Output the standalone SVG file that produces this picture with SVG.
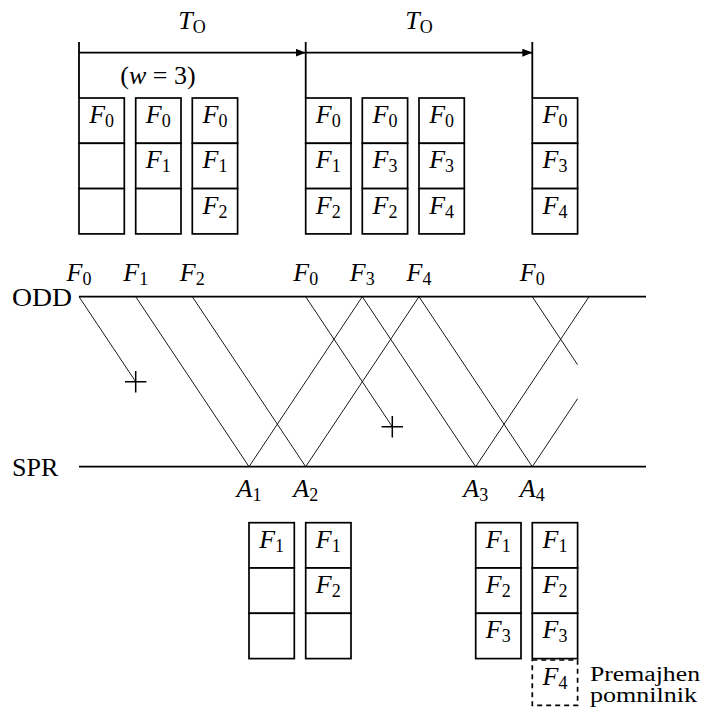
<svg xmlns="http://www.w3.org/2000/svg" width="719" height="710" viewBox="0 0 719 710" font-family="'Liberation Serif', 'DejaVu Serif', serif">
<style>
text{font-family:"Liberation Serif","DejaVu Serif",serif;font-size:26px;fill:#000}
.m{text-anchor:middle}
.i{font-style:italic}
.s{font-size:18px;font-style:normal}
.cell{fill:#fff;stroke:#000;stroke-width:1.7}
.dash{fill:#fff;stroke:#000;stroke-width:1.7;stroke-dasharray:5,4}
.thin{stroke:#000;stroke-width:0.9;fill:none}
.thick{stroke:#000;stroke-width:1.8;fill:none}
.note{font-size:20px}
</style>
<defs>
<marker id="ah" viewBox="0 0 10 8" refX="10" refY="4" markerWidth="10" markerHeight="8" markerUnits="userSpaceOnUse" orient="auto">
<path d="M0,0 L10,4 L0,8 z" fill="#000"/>
</marker>
</defs>

<g id="timing">
<line class="thick" x1="79" y1="42" x2="79" y2="98"/>
<line class="thick" x1="305.7" y1="42" x2="305.7" y2="98"/>
<line class="thick" x1="532.3" y1="42" x2="532.3" y2="98"/>
<line class="thick" x1="79" y1="52.7" x2="305.7" y2="52.7" marker-end="url(#ah)"/>
<line class="thick" x1="305.7" y1="52.7" x2="532.3" y2="52.7" marker-end="url(#ah)"/>
<text class="m" x="192" y="29"><tspan class="i">T</tspan><tspan class="s i" dy="4">O</tspan></text>
<text class="m" x="419" y="29"><tspan class="i">T</tspan><tspan class="s i" dy="4">O</tspan></text>
<text class="m" x="158" y="84">(<tspan class="i">w</tspan> = 3)</text>
</g>

<g id="top-c1">
<rect class="cell" x="79" y="98" width="45.3" height="45.3"/>
<rect class="cell" x="79" y="143.3" width="45.3" height="45.3"/>
<rect class="cell" x="79" y="188.6" width="45.3" height="45.3"/>
<text class="m" x="101.6" y="123"><tspan class="i">F</tspan><tspan class="s" dy="4">0</tspan></text>
</g>
<g id="top-c2">
<rect class="cell" x="135.7" y="98" width="45.3" height="45.3"/>
<rect class="cell" x="135.7" y="143.3" width="45.3" height="45.3"/>
<rect class="cell" x="135.7" y="188.6" width="45.3" height="45.3"/>
<text class="m" x="158.3" y="123"><tspan class="i">F</tspan><tspan class="s" dy="4">0</tspan></text>
<text class="m" x="158.3" y="168.3"><tspan class="i">F</tspan><tspan class="s" dy="4">1</tspan></text>
</g>
<g id="top-c3">
<rect class="cell" x="192.3" y="98" width="45.3" height="45.3"/>
<rect class="cell" x="192.3" y="143.3" width="45.3" height="45.3"/>
<rect class="cell" x="192.3" y="188.6" width="45.3" height="45.3"/>
<text class="m" x="215" y="123"><tspan class="i">F</tspan><tspan class="s" dy="4">0</tspan></text>
<text class="m" x="215" y="168.3"><tspan class="i">F</tspan><tspan class="s" dy="4">1</tspan></text>
<text class="m" x="215" y="213.6"><tspan class="i">F</tspan><tspan class="s" dy="4">2</tspan></text>
</g>
<g id="top-c4">
<rect class="cell" x="305.7" y="98" width="45.3" height="45.3"/>
<rect class="cell" x="305.7" y="143.3" width="45.3" height="45.3"/>
<rect class="cell" x="305.7" y="188.6" width="45.3" height="45.3"/>
<text class="m" x="328.3" y="123"><tspan class="i">F</tspan><tspan class="s" dy="4">0</tspan></text>
<text class="m" x="328.3" y="168.3"><tspan class="i">F</tspan><tspan class="s" dy="4">1</tspan></text>
<text class="m" x="328.3" y="213.6"><tspan class="i">F</tspan><tspan class="s" dy="4">2</tspan></text>
</g>
<g id="top-c5">
<rect class="cell" x="362.3" y="98" width="45.3" height="45.3"/>
<rect class="cell" x="362.3" y="143.3" width="45.3" height="45.3"/>
<rect class="cell" x="362.3" y="188.6" width="45.3" height="45.3"/>
<text class="m" x="385" y="123"><tspan class="i">F</tspan><tspan class="s" dy="4">0</tspan></text>
<text class="m" x="385" y="168.3"><tspan class="i">F</tspan><tspan class="s" dy="4">3</tspan></text>
<text class="m" x="385" y="213.6"><tspan class="i">F</tspan><tspan class="s" dy="4">2</tspan></text>
</g>
<g id="top-c6">
<rect class="cell" x="419" y="98" width="45.3" height="45.3"/>
<rect class="cell" x="419" y="143.3" width="45.3" height="45.3"/>
<rect class="cell" x="419" y="188.6" width="45.3" height="45.3"/>
<text class="m" x="441.6" y="123"><tspan class="i">F</tspan><tspan class="s" dy="4">0</tspan></text>
<text class="m" x="441.6" y="168.3"><tspan class="i">F</tspan><tspan class="s" dy="4">3</tspan></text>
<text class="m" x="441.6" y="213.6"><tspan class="i">F</tspan><tspan class="s" dy="4">4</tspan></text>
</g>
<g id="top-c7">
<rect class="cell" x="532.3" y="98" width="45.3" height="45.3"/>
<rect class="cell" x="532.3" y="143.3" width="45.3" height="45.3"/>
<rect class="cell" x="532.3" y="188.6" width="45.3" height="45.3"/>
<text class="m" x="555" y="123"><tspan class="i">F</tspan><tspan class="s" dy="4">0</tspan></text>
<text class="m" x="555" y="168.3"><tspan class="i">F</tspan><tspan class="s" dy="4">3</tspan></text>
<text class="m" x="555" y="213.6"><tspan class="i">F</tspan><tspan class="s" dy="4">4</tspan></text>
</g>

<g id="odd">
<line class="thick" x1="79" y1="296.7" x2="646" y2="296.7"/>
<text x="12" y="306" textLength="60" lengthAdjust="spacingAndGlyphs">ODD</text>
<text class="m" x="79" y="281"><tspan class="i">F</tspan><tspan class="s" dy="4">0</tspan></text>
<text class="m" x="135.7" y="281"><tspan class="i">F</tspan><tspan class="s" dy="4">1</tspan></text>
<text class="m" x="192.3" y="281"><tspan class="i">F</tspan><tspan class="s" dy="4">2</tspan></text>
<text class="m" x="305.7" y="281"><tspan class="i">F</tspan><tspan class="s" dy="4">0</tspan></text>
<text class="m" x="362.3" y="281"><tspan class="i">F</tspan><tspan class="s" dy="4">3</tspan></text>
<text class="m" x="419" y="281"><tspan class="i">F</tspan><tspan class="s" dy="4">4</tspan></text>
<text class="m" x="532.3" y="281"><tspan class="i">F</tspan><tspan class="s" dy="4">0</tspan></text>
</g>
<g id="spr">
<line class="thick" x1="79" y1="466.7" x2="646" y2="466.7"/>
<text x="12" y="476">SPR</text>
<text class="m" x="249" y="497"><tspan class="i">A</tspan><tspan class="s" dy="4">1</tspan></text>
<text class="m" x="305.7" y="497"><tspan class="i">A</tspan><tspan class="s" dy="4">2</tspan></text>
<text class="m" x="475.7" y="497"><tspan class="i">A</tspan><tspan class="s" dy="4">3</tspan></text>
<text class="m" x="532.3" y="497"><tspan class="i">A</tspan><tspan class="s" dy="4">4</tspan></text>
</g>

<g id="connectors">
<line class="thin" x1="79" y1="296.7" x2="135.7" y2="381.7"/>
<path class="thick" d="M125,381.7 H146.4 M135.7,371 V392.4" style="stroke-width:1.5"/>
<line class="thin" x1="135.7" y1="296.7" x2="249" y2="466.7"/>
<line class="thin" x1="192.3" y1="296.7" x2="305.7" y2="466.7"/>
<line class="thin" x1="249" y1="466.7" x2="362.3" y2="296.7"/>
<line class="thin" x1="305.7" y1="466.7" x2="419" y2="296.7"/>
<line class="thin" x1="305.7" y1="296.7" x2="392.3" y2="426.7"/>
<path class="thick" d="M381.6,426.7 H403 M392.3,416 V437.4" style="stroke-width:1.5"/>
<line class="thin" x1="362.3" y1="296.7" x2="475.7" y2="466.7"/>
<line class="thin" x1="419" y1="296.7" x2="532.3" y2="466.7"/>
<line class="thin" x1="475.7" y1="466.7" x2="589" y2="296.7"/>
<line class="thin" x1="532.3" y1="296.7" x2="577.6" y2="364.7"/>
<line class="thin" x1="532.3" y1="466.7" x2="577.6" y2="398.7"/>
</g>

<g id="bot-c1">
<rect class="cell" x="249" y="522.7" width="45.3" height="45.3"/>
<rect class="cell" x="249" y="568" width="45.3" height="45.3"/>
<rect class="cell" x="249" y="613.3" width="45.3" height="45.3"/>
<text class="m" x="271.6" y="547.7"><tspan class="i">F</tspan><tspan class="s" dy="4">1</tspan></text>
</g>
<g id="bot-c2">
<rect class="cell" x="305.7" y="522.7" width="45.3" height="45.3"/>
<rect class="cell" x="305.7" y="568" width="45.3" height="45.3"/>
<rect class="cell" x="305.7" y="613.3" width="45.3" height="45.3"/>
<text class="m" x="328.3" y="547.7"><tspan class="i">F</tspan><tspan class="s" dy="4">1</tspan></text>
<text class="m" x="328.3" y="593"><tspan class="i">F</tspan><tspan class="s" dy="4">2</tspan></text>
</g>
<g id="bot-c3">
<rect class="cell" x="475.7" y="522.7" width="45.3" height="45.3"/>
<rect class="cell" x="475.7" y="568" width="45.3" height="45.3"/>
<rect class="cell" x="475.7" y="613.3" width="45.3" height="45.3"/>
<text class="m" x="498.3" y="547.7"><tspan class="i">F</tspan><tspan class="s" dy="4">1</tspan></text>
<text class="m" x="498.3" y="593"><tspan class="i">F</tspan><tspan class="s" dy="4">2</tspan></text>
<text class="m" x="498.3" y="638.3"><tspan class="i">F</tspan><tspan class="s" dy="4">3</tspan></text>
</g>
<g id="bot-c4">
<rect class="cell" x="532.3" y="522.7" width="45.3" height="45.3"/>
<rect class="cell" x="532.3" y="568" width="45.3" height="45.3"/>
<rect class="cell" x="532.3" y="613.3" width="45.3" height="45.3"/>
<rect class="dash" x="532.3" y="660" width="45.3" height="45.3"/>
<text class="m" x="555" y="547.7"><tspan class="i">F</tspan><tspan class="s" dy="4">1</tspan></text>
<text class="m" x="555" y="593"><tspan class="i">F</tspan><tspan class="s" dy="4">2</tspan></text>
<text class="m" x="555" y="638.3"><tspan class="i">F</tspan><tspan class="s" dy="4">3</tspan></text>
<text class="m" x="555" y="685"><tspan class="i">F</tspan><tspan class="s" dy="4">4</tspan></text>
</g>
<g id="note">
<text class="note" x="590" y="681" textLength="110" lengthAdjust="spacingAndGlyphs">Premajhen</text>
<text class="note" x="590" y="702" textLength="107" lengthAdjust="spacingAndGlyphs">pomnilnik</text>
</g>
</svg>
